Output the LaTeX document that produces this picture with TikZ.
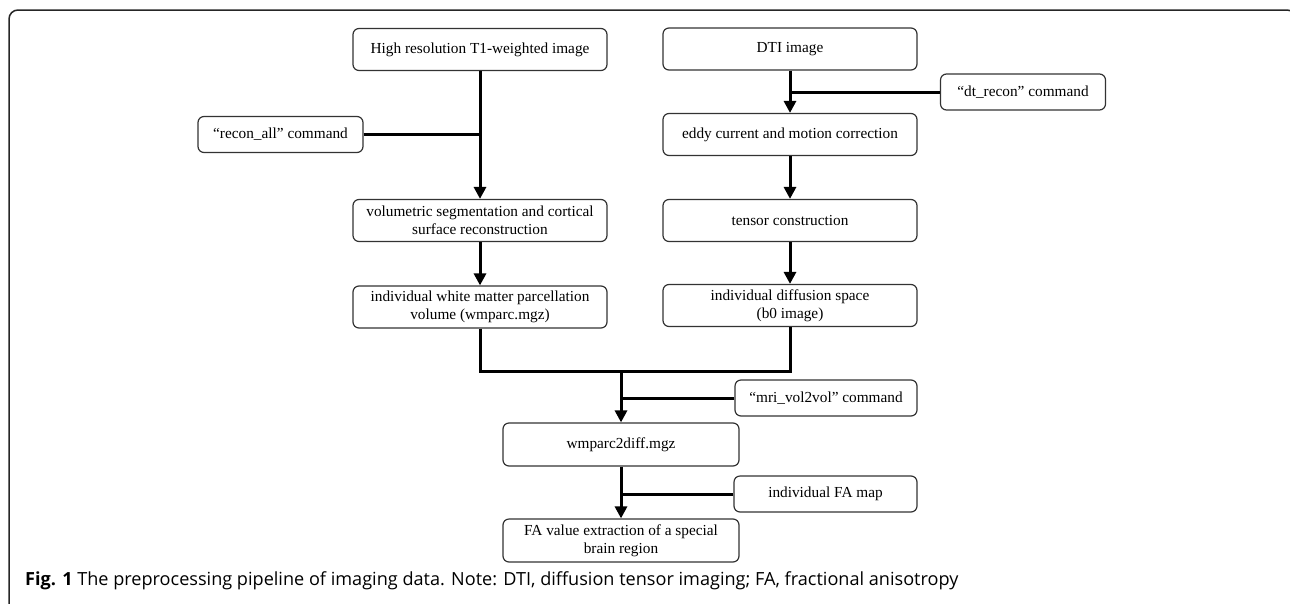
\documentclass[tikz,border=0pt]{standalone}
\usepackage{fontspec}
\setmainfont{Liberation Serif}
\newfontfamily\capfont{Open Sans}
\usepackage{tikz}
\usetikzlibrary{arrows.meta}

\begin{document}
\begin{tikzpicture}[x=1pt,y=-1pt,
	stage/.style={draw=black!80,line width=1.2pt,rounded corners=6pt,minimum width=254pt,minimum height=42pt,
		align=center,inner sep=0pt,font=\fontsize{15.3}{18}\selectfont},
	command/.style={stage,minimum width=165pt,minimum height=36pt},
	flow/.style={line width=3pt,-{Triangle[length=12pt,width=12pt]}},
	feed/.style={line width=3pt}]
\useasboundingbox (0,0) rectangle (1290,603);
\draw[black!85,line width=1.5pt,rounded corners=9pt] (9,610) -- (9,10) -- (1296,10) -- (1296,610);

% T1 branch
\node[stage] (t1) at (480,49.5) {High resolution T1-weighted image};
\node[command] (recon) at (280.5,134.5) {“recon\_all” command};
\node[stage] (seg) at (480,220.5) {volumetric segmentation and cortical\\surface reconstruction};
\node[stage] (wmparc) at (480,307) {individual white matter parcellation\\volume (wmparc.mgz)};

% DTI branch
\node[stage] (dti) at (790,49) {DTI image};
\node[command] (dtrecon) at (1023,92) {“dt\_recon” command};
\node[stage] (eddy) at (790,134.5) {eddy current and motion correction};
\node[stage] (tensor) at (790,220.5) {tensor construction};
\node[stage] (b0) at (790,305.5) {individual diffusion space\\(b0 image)};

% registration and extraction
\node[command,minimum width=182pt] (vol2vol) at (826,398) {“mri\_vol2vol” command};
\node[stage,minimum width=236pt,minimum height=43pt] (wm2d) at (621,444.5) {wmparc2diff.mgz};
\node[command,minimum width=183pt] (famap) at (825.5,494) {individual FA map};
\node[stage,minimum width=236pt,minimum height=43pt] (faval) at (621,540.5) {FA value extraction of a special\\brain region};
\coordinate (join) at (621,371);

\draw[flow] (t1) -- (seg);
\draw[feed] (recon) -- (recon -| t1);
\draw[flow] (seg) -- (wmparc);
\draw[flow] (dti) -- (eddy);
\draw[feed] (dtrecon) -- (dtrecon -| dti);
\draw[flow] (eddy) -- (tensor);
\draw[flow] (tensor) -- (b0);
\draw[feed] (wmparc) |- (join) -| (b0);
\draw[flow] (join) -- (wm2d);
\draw[feed] (vol2vol) -- (vol2vol -| wm2d);
\draw[flow] (wm2d) -- (faval);
\draw[feed] (famap) -- (famap -| wm2d);

\node[anchor=base west,inner sep=0pt,font=\capfont\fontsize{18.1}{22}\selectfont] (caption) at (25,585)
	{\textbf{Fig. 1} The preprocessing pipeline of imaging data. Note: DTI, diffusion tensor imaging; FA, fractional anisotropy};
\end{tikzpicture}
\end{document}
